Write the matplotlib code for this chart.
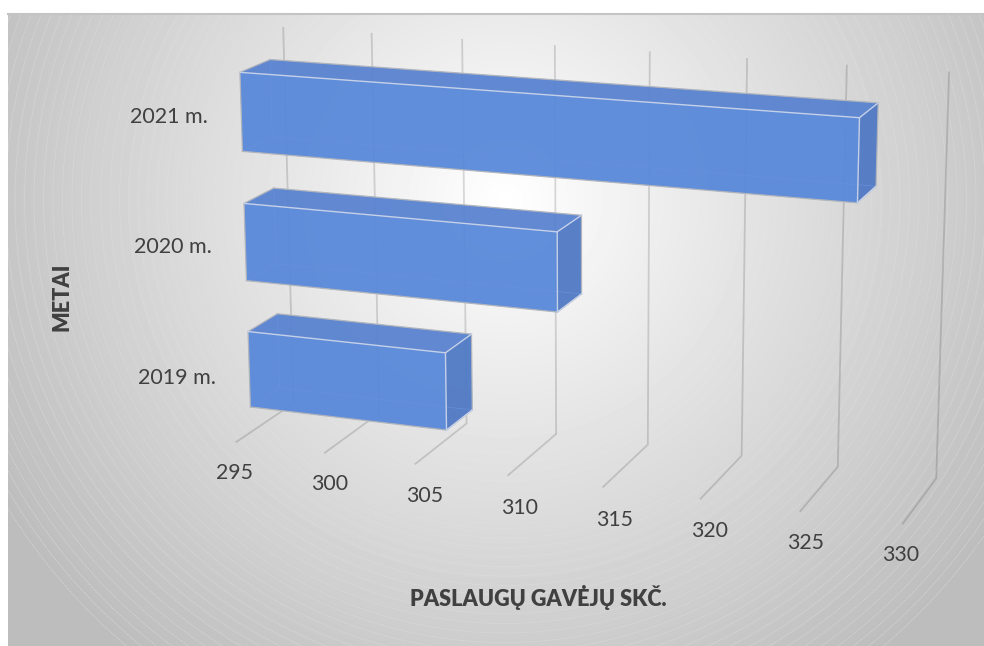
import numpy as np
import matplotlib
matplotlib.use("Agg")
import matplotlib.pyplot as plt
from matplotlib.patches import Circle, Polygon

plt.rcParams["font.family"] = ["Lato", "DejaVu Sans"]

YEARS = ["2019 m.", "2020 m.", "2021 m."]
VALUES = [306, 312, 327]
TICKS = [295, 300, 305, 310, 315, 320, 325, 330]
X_TITLE = "PASLAUGŲ GAVĖJŲ SKČ."
Y_TITLE = "METAI"

W, H = 984, 646
V_MIN, V_MAX = TICKS[0], TICKS[-1]
BAR_FRONT, BAR_BACK = 0.25, 0.76
BAR_SHARE = 0.6

# corners of the 3d box on the picture: (value share, depth, height) -> pixel
BOX = [
    (0, 1, 0, 294, 403), (1, 1, 0, 936, 479),
    (0, 1, 1, 283, 27), (1, 1, 1, 949, 73),
    (0, 0, 0, 236, 442), (1, 0, 0, 903, 523),
    (0, 0, 1, 224, 53), (1, 0, 1, 915, 100),
]

rows, rhs = [], []
for a, b, c, u, v in BOX:
    rows.append([a, b, c, 1, 0, 0, 0, 0, -u * a, -u * b, -u * c])
    rhs.append(u)
    rows.append([0, 0, 0, 0, a, b, c, 1, -v * a, -v * b, -v * c])
    rhs.append(v)
CAM = np.append(np.linalg.lstsq(np.array(rows, float), np.array(rhs, float), rcond=None)[0], 1).reshape(3, 4)


def project(value, depth, height):
    t = (value - V_MIN) / (V_MAX - V_MIN)
    p = CAM @ np.array([t, depth, height, 1.0])
    return p[0] / p[2], p[1] / p[2]


fig = plt.figure(figsize=(W / 100, H / 100), dpi=100)
ax = fig.add_axes([0, 0, 1, 1])

# radial background of the chart area
CX, CY, R_END = 505, 200, 585
yy, xx = np.mgrid[15:H, 8:W]
r = np.hypot(xx - CX, yy - CY)
shade = 1.0 - 0.26 * np.clip(r / R_END, 0, 1)
ax.imshow(shade, extent=(8, W, H, 15), cmap="gray", vmin=0, vmax=1, aspect="auto", zorder=0)
clip = plt.Rectangle((8, 15), W - 8, H - 15, transform=ax.transData)
for rad in np.arange(R_END, 60, -9.5):
    c = Circle((CX, CY), rad, fill=False, ec="white", lw=0.5, ls=(0, (2, 1)), alpha=0.4 * (rad / R_END) ** 1.5, zorder=1)
    ax.add_patch(c)
    c.set_clip_path(clip)
ax.plot([8, W], [13.5, 13.5], color="#c4c4c4", lw=1.5, zorder=2)
ax.set_xlim(0, W)
ax.set_ylim(H, 0)
ax.axis("off")

# gridlines: up the back wall, then out along the floor
first = np.array(project(V_MIN, 0, 0))
last = np.array(project(V_MAX, 0, 0))
for tick in TICKS:
    pts = [project(tick, 0, 0), project(tick, 1, 0), project(tick, 1, 1)]
    ax.plot(*zip(*pts), color="black", alpha=0.14, lw=1.3, zorder=3, solid_joinstyle="miter")
    # the tick labels sit evenly spaced along a straight line under the floor
    t = (tick - V_MIN) / (V_MAX - V_MIN)
    x, y = first + t * (last - first)
    ax.text(x - 2.5, y + 31, str(tick), ha="center", va="center", fontsize=15.3, color="#404040", zorder=6)

# bars
for i, (year, value) in enumerate(zip(YEARS, VALUES)):
    mid = (i + 0.5) / len(YEARS)
    lo = mid - BAR_SHARE / len(YEARS) / 2
    hi = mid + BAR_SHARE / len(YEARS) / 2
    fbl = project(V_MIN, BAR_FRONT, lo)
    fbr = project(value, BAR_FRONT, lo)
    ftl = project(V_MIN, BAR_FRONT, hi)
    ftr = project(value, BAR_FRONT, hi)
    bbl = project(V_MIN, BAR_BACK, lo)
    bbr = project(value, BAR_BACK, lo)
    btl = project(V_MIN, BAR_BACK, hi)
    btr = project(value, BAR_BACK, hi)
    ax.add_patch(Polygon([ftl, ftr, btr, btl], fc="#5882d0", ec="none", alpha=0.94, zorder=4))
    ax.add_patch(Polygon([ftr, fbr, bbr, btr], fc="#4f79c4", ec="none", alpha=0.94, zorder=4))
    ax.add_patch(Polygon([ftl, ftr, fbr, fbl], fc="#5888d9", ec="none", alpha=0.94, zorder=4))
    for a, b in [(btl, bbl), (bbl, bbr), (bbl, fbl)]:
        ax.plot(*zip(a, b), color="#6590dc", lw=0.5, zorder=5)
    for a, b in [(ftl, btl), (btl, btr), (btr, bbr), (bbr, fbr), (fbr, fbl), (fbl, ftl)]:
        ax.plot(*zip(a, b), color="#b0b4bc", lw=0.9, zorder=5)
    for a, b in [(ftl, ftr), (ftr, fbr), (ftr, btr), (fbr, bbr)]:
        ax.plot(*zip(a, b), color="#c4d0e8", lw=1.0, zorder=5)
    x, y = project(V_MIN, BAR_FRONT, mid)
    ax.text(x - 33, y + (9 if i == 0 else 5), year, ha="right", va="center", fontsize=15.5, color="#404040", zorder=6)

ax.text(538.5, 597, X_TITLE, ha="center", va="center", fontsize=15.6, fontweight="heavy", color="#404040", zorder=6)
ax.text(62, 297, Y_TITLE, ha="center", va="center", rotation=90, fontsize=15.6, fontweight="heavy", color="#404040", zorder=6)

fig.savefig("out.png", dpi=100)
plt.close()
